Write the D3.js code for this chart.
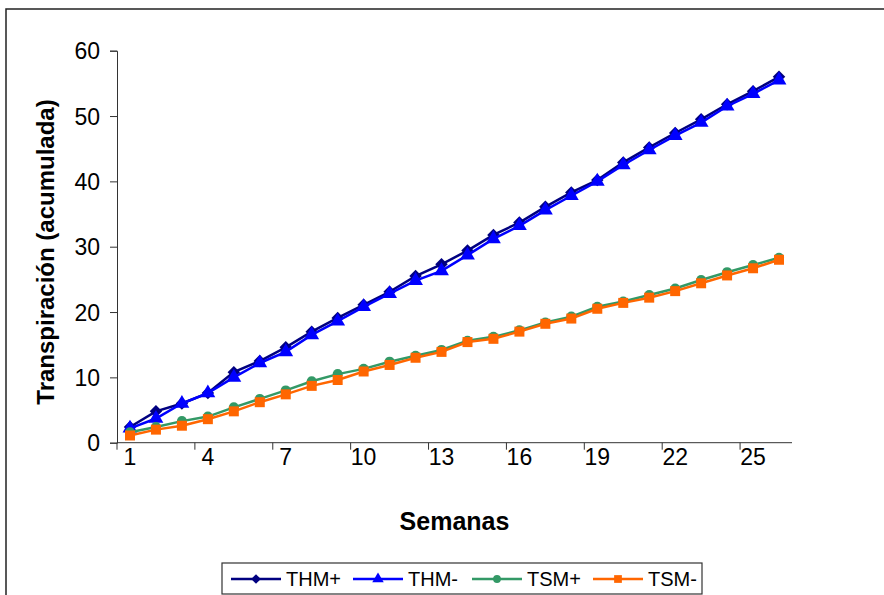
<!DOCTYPE html>
<html>
<head>
<meta charset="utf-8">
<script src="https://cdn.jsdelivr.net/npm/d3@7"></script>
<style>
  body { margin: 0; background: #fff; }
  text { font-family: "Liberation Sans", Arial, sans-serif; fill: #000; }
</style>
</head>
<body>
<script>
// semanas 1..26
var semanas = d3.range(1, 27);
var xTickLabels = [1, 4, 7, 10, 13, 16, 19, 22, 25];
var yTicks = [0, 10, 20, 30, 40, 50, 60];

var thmPlus  = [2.4, 4.8, 6.0, 7.6, 10.8, 12.5, 14.6, 17.0, 19.1, 21.1, 23.1, 25.5, 27.3, 29.4, 31.8, 33.7, 36.1, 38.3, 40.2, 42.9, 45.2, 47.4, 49.5, 51.8, 53.8, 56.0];
var thmMinus = [2.2, 3.7, 6.0, 7.6, 10.0, 12.2, 13.9, 16.5, 18.6, 20.8, 22.8, 24.8, 26.3, 28.7, 31.2, 33.2, 35.6, 37.8, 40.0, 42.5, 44.8, 47.0, 49.0, 51.5, 53.4, 55.5];
var tsmPlus  = [1.6, 2.4, 3.3, 4.0, 5.4, 6.7, 8.0, 9.4, 10.5, 11.3, 12.4, 13.3, 14.2, 15.6, 16.2, 17.2, 18.4, 19.3, 20.8, 21.6, 22.6, 23.6, 24.9, 26.1, 27.2, 28.3];
var tsmMinus = [1.1, 2.0, 2.6, 3.6, 4.8, 6.2, 7.4, 8.7, 9.6, 10.9, 11.9, 13.0, 13.9, 15.4, 15.9, 17.0, 18.2, 19.0, 20.5, 21.4, 22.2, 23.2, 24.4, 25.6, 26.7, 28.0];

var seriesNames = ["THM+", "THM-", "TSM+", "TSM-"];
var seriesColors = ["#000080", "#0000FF", "#339966", "#FF6600"];
var seriesSymbols = [d3.symbolSquare, d3.symbolTriangle, d3.symbolCircle, d3.symbolSquare];
var seriesRotate = [45, 0, 0, 0];
var seriesValues = [thmPlus, thmMinus, tsmPlus, tsmMinus];

var width = 884, height = 595;
var svg = d3.select('body').append('svg')
    .attr('width', width).attr('height', height);

// outer chart border
svg.append('rect')
    .attr('x', 6).attr('y', 9)
    .attr('width', 900).attr('height', 620)
    .attr('fill', 'none').attr('stroke', '#222').attr('stroke-width', 1.5);

var plotLeft = 117, plotRight = 792, plotTop = 50.7, plotBottom = 442.7;

var xScale = d3.scaleBand()
    .domain(semanas)
    .range([plotLeft, plotRight]);

var yScale = d3.scaleLinear()
    .domain([0, 60])
    .range([plotBottom, plotTop]);

// y axis
var y_axis = d3.axisLeft(yScale).tickValues(yTicks).tickSize(7).tickPadding(10);
var gy = svg.append('g')
    .attr('transform', 'translate(' + plotLeft + ',0)')
    .call(y_axis);
gy.select('.domain').attr('stroke', '#333');
gy.selectAll('.tick line').attr('stroke', '#333');
gy.selectAll('.tick text').style('font-size', '23px').attr('dy', '0.36em');

// x axis: ticks between categories every 3, labels at category centres
var gx = svg.append('g')
    .attr('transform', 'translate(0,' + plotBottom + ')');
gx.append('line')
    .attr('x1', plotLeft).attr('x2', plotRight)
    .attr('stroke', '#333');
var bw = xScale.bandwidth();
gx.selectAll('.xtick').data(d3.range(0, 25, 3)).enter().append('line')
    .attr('x1', d => plotLeft + d * bw).attr('x2', d => plotLeft + d * bw)
    .attr('y1', 0).attr('y2', 7)
    .attr('stroke', '#333');
gx.selectAll('.xlab').data(xTickLabels).enter().append('text')
    .attr('x', d => xScale(d) + bw / 2)
    .attr('y', 22)
    .attr('text-anchor', 'middle')
    .style('font-size', '23px')
    .text(d => d);

// axis titles
svg.append('text')
    .attr('x', (plotLeft + plotRight) / 2).attr('y', 530)
    .attr('text-anchor', 'middle')
    .style('font-size', '25px').style('font-weight', 'bold')
    .text('Semanas');

svg.append('text')
    .attr('transform', 'translate(54,252) rotate(-90)')
    .attr('text-anchor', 'middle')
    .style('font-size', '24px').style('font-weight', 'bold')
    .text('Transpiración (acumulada)');

// series
var line = d3.line()
    .x((d, i) => xScale(semanas[i]) + bw / 2)
    .y(d => yScale(d));

var markerSizes = [78, 95, 80, 100];

seriesValues.forEach(function(vals, s) {
    var g = svg.append('g');
    g.append('path')
        .datum(vals)
        .attr('d', line)
        .attr('fill', 'none')
        .attr('stroke', seriesColors[s])
        .attr('stroke-width', 2.5);
    g.selectAll('path.mk').data(vals).enter().append('path')
        .attr('class', 'mk')
        .attr('d', d3.symbol().type(seriesSymbols[s]).size(markerSizes[s]))
        .attr('transform', (d, i) => 'translate(' + (xScale(semanas[i]) + bw / 2) + ',' + yScale(d) + ') rotate(' + seriesRotate[s] + ')')
        .attr('fill', seriesColors[s]);
});

// legend
var legend = svg.append('g');
legend.append('rect')
    .attr('x', 222).attr('y', 563)
    .attr('width', 480).attr('height', 31)
    .attr('fill', '#fff').attr('stroke', '#333').attr('stroke-width', 1.2);
var legendX = [231, 353, 472, 593];
seriesNames.forEach(function(name, s) {
    var lx = legendX[s];
    legend.append('line')
        .attr('x1', lx).attr('x2', lx + 50)
        .attr('y1', 579).attr('y2', 579)
        .attr('stroke', seriesColors[s]).attr('stroke-width', 2.5);
    legend.append('path')
        .attr('d', d3.symbol().type(seriesSymbols[s]).size(markerSizes[s] * 0.6))
        .attr('transform', 'translate(' + (lx + 25) + ',579) rotate(' + seriesRotate[s] + ')')
        .attr('fill', seriesColors[s]);
    legend.append('text')
        .attr('x', lx + 55).attr('y', 586)
        .style('font-size', '20px')
        .text(name);
});
</script>
</body>
</html>
